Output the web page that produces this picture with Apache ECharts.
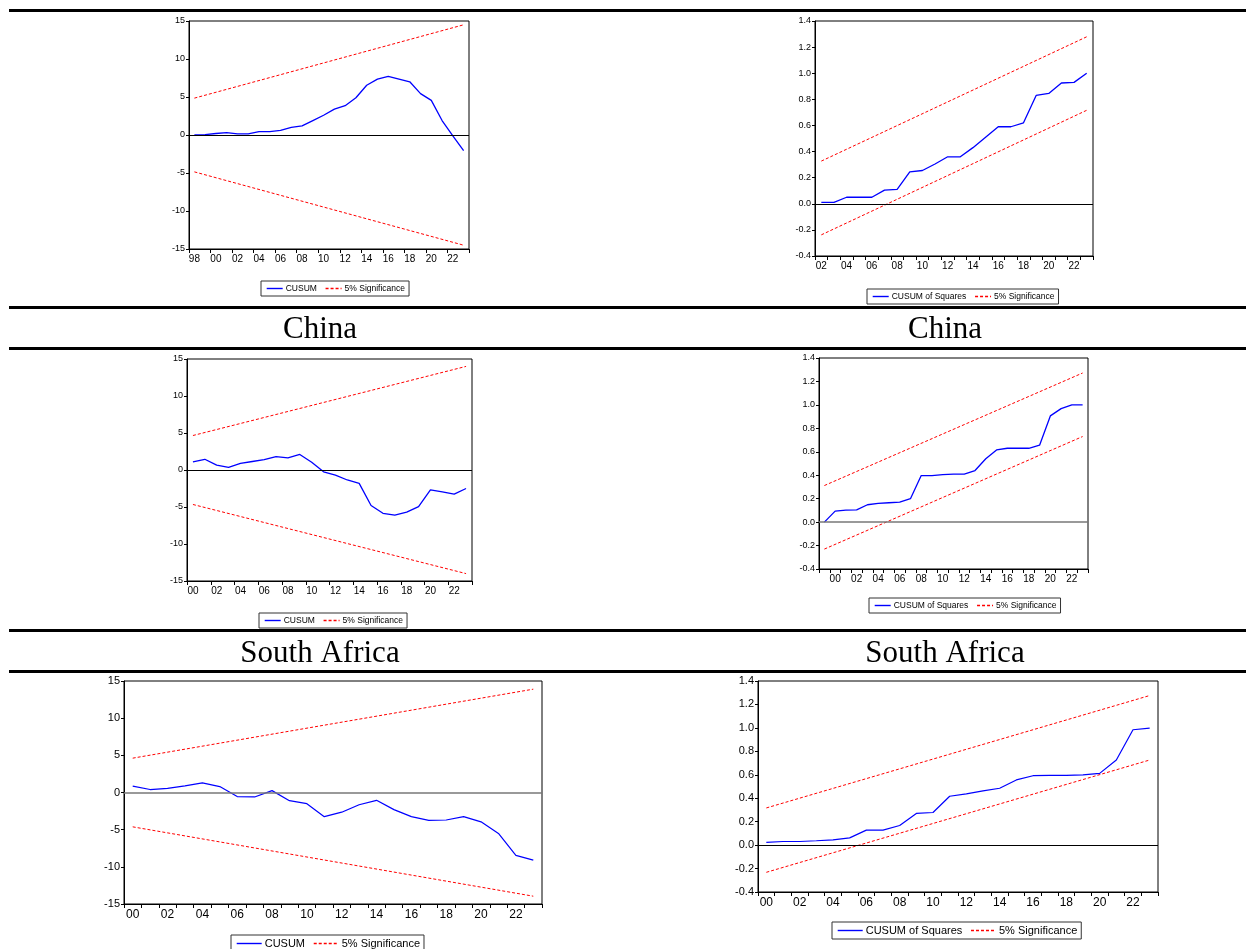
<!DOCTYPE html>
<html>
<head>
<meta charset="utf-8">
<script src="https://cdn.jsdelivr.net/npm/echarts@6/dist/echarts.min.js"></script>
<style>
html,body{margin:0;padding:0;background:#fff;}
#c{width:1246px;height:949px;}
</style>
</head>
<body>
<div id="c"></div>
<script>
// ---------- Data ----------
// Panel 1: China CUSUM
const years1 = ['1998','1999','2000','2001','2002','2003','2004','2005','2006','2007','2008','2009','2010','2011','2012','2013','2014','2015','2016','2017','2018','2019','2020','2021','2022','2023'];
const cusum1 = [0.0,0.05,0.2,0.3,0.15,0.15,0.45,0.45,0.6,1.0,1.2,1.9,2.6,3.4,3.85,4.9,6.55,7.35,7.7,7.35,7.0,5.45,4.55,1.9,-0.1,-2.05];
const upper1 = [4.85, 14.5];
const lower1 = [-4.85, -14.5];

// Panel 2: China CUSUM of Squares
const years2 = ['2002','2003','2004','2005','2006','2007','2008','2009','2010','2011','2012','2013','2014','2015','2016','2017','2018','2019','2020','2021','2022','2023'];
const cusumsq2 = [0.01,0.01,0.05,0.05,0.05,0.105,0.11,0.245,0.255,0.305,0.36,0.36,0.43,0.51,0.59,0.59,0.62,0.83,0.845,0.925,0.93,1.0];
const upper2 = [0.327, 1.279];
const lower2 = [-0.238, 0.716];

// Panel 3: South Africa CUSUM
const years3 = ['2000','2001','2002','2003','2004','2005','2006','2007','2008','2009','2010','2011','2012','2013','2014','2015','2016','2017','2018','2019','2020','2021','2022','2023'];
const cusum3 = [1.1,1.45,0.65,0.35,0.9,1.15,1.4,1.8,1.65,2.1,1.05,-0.25,-0.7,-1.35,-1.8,-4.8,-5.85,-6.1,-5.7,-4.95,-2.7,-2.95,-3.25,-2.5];
const upper3 = [4.66, 14.0];
const lower3 = [-4.66, -14.0];

// Panel 4: South Africa CUSUM of Squares
const years4 = ['1999','2000','2001','2002','2003','2004','2005','2006','2007','2008','2009','2010','2011','2012','2013','2014','2015','2016','2017','2018','2019','2020','2021','2022','2023'];
const cusumsq4 = [0.0,0.094,0.102,0.104,0.148,0.159,0.165,0.17,0.2,0.397,0.397,0.405,0.409,0.409,0.44,0.54,0.616,0.63,0.63,0.63,0.656,0.906,0.968,1.0,1.0];
const upper4 = [0.312, 1.272];
const lower4 = [-0.23, 0.73];

// Panel 5: bottom CUSUM
const years5 = ['2000','2001','2002','2003','2004','2005','2006','2007','2008','2009','2010','2011','2012','2013','2014','2015','2016','2017','2018','2019','2020','2021','2022','2023'];
const cusum5 = [0.85,0.4,0.55,0.9,1.3,0.8,-0.55,-0.6,0.25,-1.1,-1.5,-3.25,-2.65,-1.65,-1.05,-2.3,-3.25,-3.75,-3.7,-3.25,-3.95,-5.5,-8.45,-9.1];
const upper5 = [4.62, 13.9];
const lower5 = [-4.62, -13.95];

// Panel 6: bottom CUSUM of Squares
const years6 = ['2000','2001','2002','2003','2004','2005','2006','2007','2008','2009','2010','2011','2012','2013','2014','2015','2016','2017','2018','2019','2020','2021','2022','2023'];
const cusumsq6 = [0.023,0.031,0.031,0.037,0.045,0.062,0.128,0.128,0.167,0.27,0.278,0.417,0.437,0.462,0.485,0.556,0.592,0.595,0.595,0.6,0.612,0.726,0.984,0.998];
const upper6 = [0.317, 1.276];
const lower6 = [-0.232, 0.726];

const countryLabels = ['China', 'South Africa'];
const sigName = '5% Significance';

// ---------- Layout ----------
const NARROW = '"Liberation Sans Narrow","Arial Narrow","Liberation Sans",Arial,sans-serif';
const ARIAL = '"Liberation Sans",Arial,sans-serif';

const panels = [
  {years: years1, vals: cusum1, up: upper1, lo: lower1, name: 'CUSUM', sq: false,
   grid: {left: 189, top: 21, width: 280, height: 228}, tickInt: 1, labInt: 1,
   font: NARROW, fs: 9, zeroColor: '#000', lw: 1.3,
   legend: {left: 261, top: 281, fs: 8.5, iw: 16}},
  {years: years2, vals: cusumsq2, up: upper2, lo: lower2, name: 'CUSUM of Squares', sq: true,
   grid: {left: 815, top: 21, width: 278, height: 235}, tickInt: 0, labInt: 1,
   font: NARROW, fs: 9, zeroColor: '#000', lw: 1.3,
   legend: {left: 867, top: 289, fs: 8.5, iw: 16}},
  {years: years3, vals: cusum3, up: upper3, lo: lower3, name: 'CUSUM', sq: false,
   grid: {left: 187, top: 359, width: 285, height: 222}, tickInt: 1, labInt: 1,
   font: NARROW, fs: 9, zeroColor: '#000', lw: 1.3,
   legend: {left: 259, top: 613, fs: 8.5, iw: 16}},
  {years: years4, vals: cusumsq4, up: upper4, lo: lower4, name: 'CUSUM of Squares', sq: true,
   grid: {left: 819, top: 358, width: 269, height: 211}, tickInt: 0, labInt: function (i) { return i % 2 === 1; },
   font: NARROW, fs: 9, zeroColor: '#777', lw: 1.3,
   legend: {left: 869, top: 598, fs: 8.5, iw: 16}},
  {years: years5, vals: cusum5, up: upper5, lo: lower5, name: 'CUSUM', sq: false,
   grid: {left: 124, top: 681, width: 418, height: 223}, tickInt: 0, labInt: 1,
   font: ARIAL, fs: 11, zeroColor: '#777', lw: 1.2,
   legend: {left: 231, top: 935, fs: 11, iw: 25}},
  {years: years6, vals: cusumsq6, up: upper6, lo: lower6, name: 'CUSUM of Squares', sq: true,
   grid: {left: 758, top: 681, width: 400, height: 211}, tickInt: 0, labInt: 1,
   font: ARIAL, fs: 11, zeroColor: '#000', lw: 1.2,
   legend: {left: 832, top: 922, fs: 11, iw: 25}}
];

const grids = [], xAxes = [], yAxes = [], series = [], legends = [];
panels.forEach(function (p, i) {
  grids.push({left: p.grid.left, top: p.grid.top, width: p.grid.width, height: p.grid.height,
    show: true, borderColor: '#000', borderWidth: 1, backgroundColor: 'transparent', containLabel: false});
  xAxes.push({type: 'category', gridIndex: i, data: p.years, boundaryGap: true,
    axisLine: {show: true, onZero: false, lineStyle: {color: '#000', width: 1}},
    axisTick: {show: true, interval: p.tickInt, length: 4, inside: false, lineStyle: {color: '#000'}},
    axisLabel: {interval: p.labInt, color: '#000', fontFamily: p.font, fontSize: p.fs + 1, margin: 5,
      formatter: function (v) { return v.slice(2); }},
    splitLine: {show: false}});
  yAxes.push({type: 'value', gridIndex: i,
    min: p.sq ? -0.4 : -15, max: p.sq ? 1.4 : 15, interval: p.sq ? 0.2 : 5,
    axisLine: {show: true, lineStyle: {color: '#000', width: 1}},
    axisTick: {show: true, length: 3, lineStyle: {color: '#000'}},
    axisLabel: {color: '#000', fontFamily: p.font, fontSize: p.fs, margin: 4,
      formatter: function (v) { return p.sq ? v.toFixed(1) : String(Math.round(v)); }},
    splitLine: {show: false}});
  const n = p.years.length - 1;
  series.push({name: p.name, type: 'line', xAxisIndex: i, yAxisIndex: i, data: p.vals,
    symbol: 'none', smooth: false, lineStyle: {color: '#0000ff', width: p.lw}, itemStyle: {color: '#0000ff'},
    z: 3,
    markLine: {silent: true, symbol: 'none', label: {show: false},
      lineStyle: {color: p.zeroColor, width: p.zeroColor === '#000' ? 1 : 1.6, type: 'solid'},
      data: [{yAxis: 0}]}});
  series.push({name: sigName, type: 'line', xAxisIndex: i, yAxisIndex: i,
    data: [[p.years[0], p.up[0]], [p.years[n], p.up[1]]],
    symbol: 'none', lineStyle: {color: '#ff0000', width: 1, type: [3, 2]}, itemStyle: {color: '#ff0000'}, z: 2});
  series.push({name: sigName, type: 'line', xAxisIndex: i, yAxisIndex: i,
    data: [[p.years[0], p.lo[0]], [p.years[n], p.lo[1]]],
    symbol: 'none', lineStyle: {color: '#ff0000', width: 1, type: [3, 2]}, itemStyle: {color: '#ff0000'}, z: 2});
  legends.push({left: p.legend.left, top: p.legend.top, orient: 'horizontal',
    data: [p.name, sigName],
    selectedMode: false,
    itemStyle: {opacity: 0},
    lineStyle: {width: 1.4},
    itemWidth: p.legend.iw, itemHeight: 9, itemGap: 8,
    padding: [3, 4, 3, 5], borderColor: '#333', borderWidth: 1, borderRadius: 0,
    textStyle: {color: '#000', fontFamily: p.font, fontSize: p.legend.fs, padding: [0, 0, 0, -2]}});
});

// horizontal rule lines and country labels
const ruleYs = [9, 306, 347, 629, 670];
const graphics = ruleYs.map(function (y) {
  return {type: 'rect', shape: {x: 9, y: y, width: 1237, height: 3}, style: {fill: '#000'}, silent: true};
});
[[countryLabels[0], 330], [countryLabels[1], 654]].forEach(function (t) {
  [320, 945].forEach(function (x) {
    graphics.push({type: 'text', x: x, y: t[1], silent: true,
      style: {text: t[0], textAlign: 'center', textVerticalAlign: 'middle',
        fontFamily: '"Liberation Serif","Times New Roman",serif', fontSize: 31, fill: '#000'}});
  });
});

const chart = echarts.init(document.getElementById('c'), null, {renderer: 'canvas'});
chart.setOption({
  animation: false,
  backgroundColor: '#fff',
  grid: grids, xAxis: xAxes, yAxis: yAxes, series: series, legend: legends,
  graphic: graphics
});
</script>
</body>
</html>
